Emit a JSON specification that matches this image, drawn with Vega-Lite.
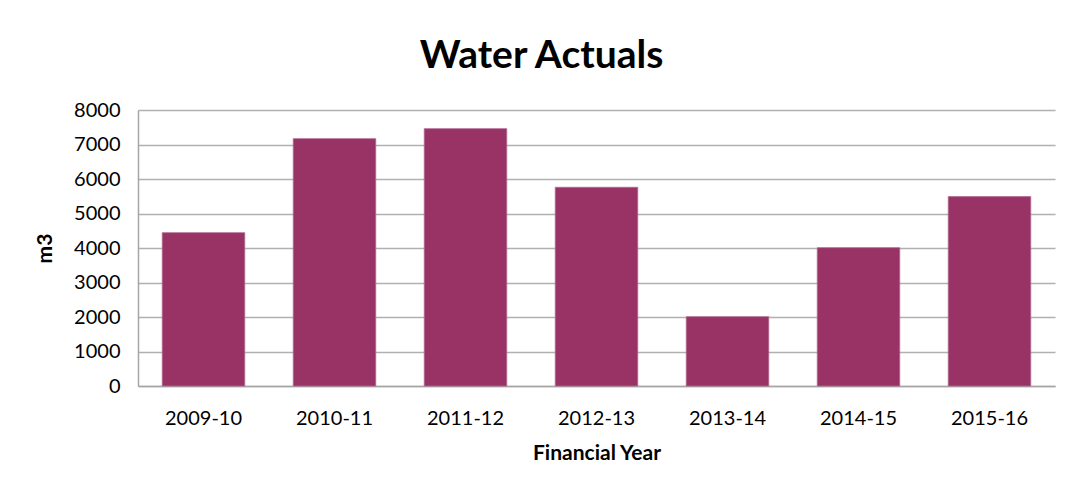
{
  "$schema": "https://vega.github.io/schema/vega-lite/v6.json",
  "autosize": "none",
  "width": 917,
  "height": 276,
  "padding": {"left": 138, "top": 110, "right": 12, "bottom": 102},
  "background": "white",
  "title": {"text": "Water Actuals", "font": "Lato", "fontSize": 39, "fontWeight": "bold", "color": "#000000", "anchor": "middle", "dx": -55, "offset": 24},
  "data": {"values": [
    {"year": "2009-10", "m3": 4445},
    {"year": "2010-11", "m3": 7170},
    {"year": "2011-12", "m3": 7460},
    {"year": "2012-13", "m3": 5760},
    {"year": "2013-14", "m3": 2010},
    {"year": "2014-15", "m3": 4010},
    {"year": "2015-16", "m3": 5490}
  ]},
  "mark": {"type": "bar", "color": "#993366", "stroke": "#b06890", "strokeWidth": 0.8},
  "encoding": {
    "x": {"field": "year", "type": "nominal", "sort": null, "title": "Financial Year",
      "scale": {"paddingInner": 0.37, "paddingOuter": 0.185},
      "axis": {"labelAngle": 0, "labelFont": "Lato", "labelFontSize": 20, "labelColor": "#000000", "labelPadding": 22, "ticks": false, "domainColor": "#a6a6a6", "domainWidth": 1.5, "titleFont": "Lato", "titleFontSize": 21, "titleFontWeight": "bold", "titleColor": "#000000", "titlePadding": 14}},
    "y": {"field": "m3", "type": "quantitative", "title": "m3",
      "scale": {"domain": [0, 8000]},
      "axis": {"values": [0,1000,2000,3000,4000,5000,6000,7000,8000], "format": "d", "labelFont": "Lato", "labelFontSize": 20, "labelColor": "#000000", "labelPadding": 18, "ticks": false, "domainColor": "#a6a6a6", "domainWidth": 1.5, "gridColor": "#b0b0b0", "gridWidth": 1.5, "titleFont": "Lato", "titleFontSize": 21, "titleFontWeight": "bold", "titleColor": "#000000", "titlePadding": 18}}
  },
  "config": {"view": {"stroke": null}}
}
